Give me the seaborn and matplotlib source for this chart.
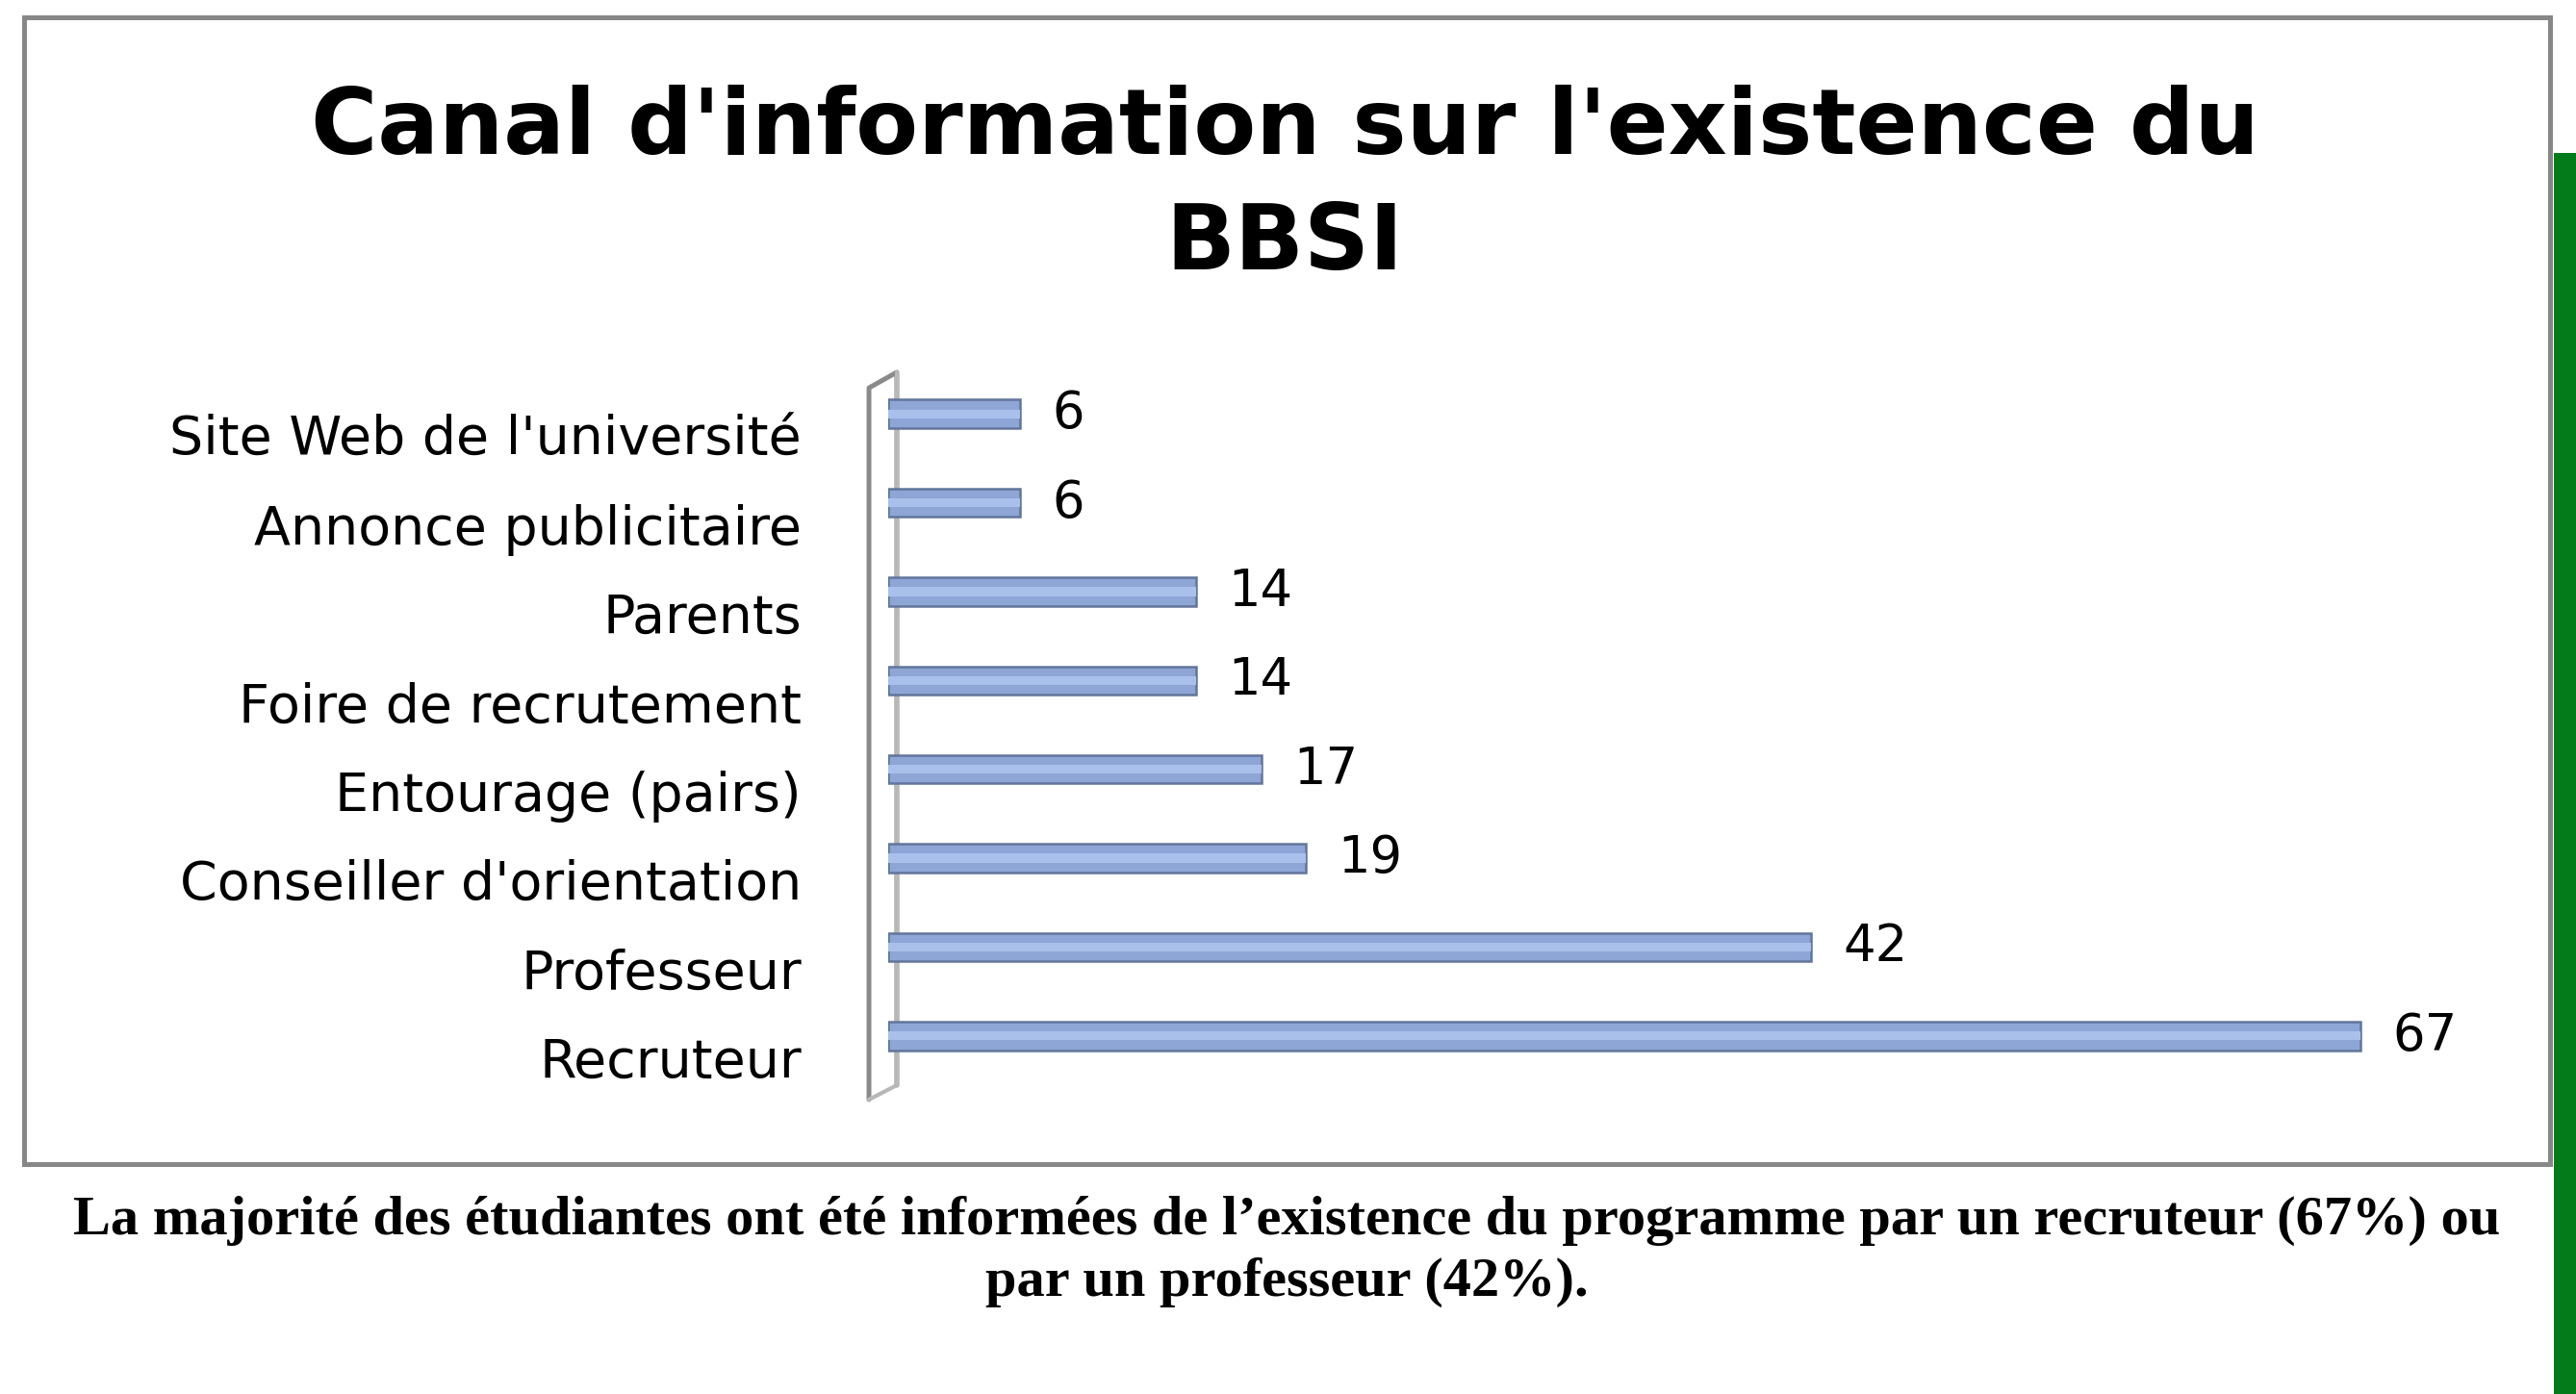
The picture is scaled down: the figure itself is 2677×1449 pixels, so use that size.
import matplotlib
matplotlib.use("Agg")

import matplotlib.pyplot as plt
import matplotlib.patches as mpatches
from matplotlib.transforms import ScaledTranslation
import pandas as pd
import seaborn as sns

categories = [
    "Site Web de l'université",
    "Annonce publicitaire",
    "Parents",
    "Foire de recrutement",
    "Entourage (pairs)",
    "Conseiller d'orientation",
    "Professeur",
    "Recruteur",
]
values = [6, 6, 14, 14, 17, 19, 42, 67]

title = "Canal d'information sur l'existence du\nBBSI"
caption = (
    "La majorité des étudiantes ont été informées de l\u2019existence du programme "
    "par un recruteur (67%) ou\npar un professeur (42%)."
)

sns.set_theme(style="white")
plt.rcParams["font.family"] = ["DejaVu Sans"]

df = pd.DataFrame({"canal": categories, "pct": values})

fig = plt.figure(figsize=(26.77, 14.49), dpi=100)
ax = fig.add_axes([0.3448, 0.225, 0.5973, 0.510])

# body of the cylinders, then a lighter highlight stripe
sns.barplot(data=df, x="pct", y="canal", orient="h", color="#8ea6d6",
            width=0.32, edgecolor="#62759a", linewidth=1.8, saturation=1, ax=ax)
main_bars = list(ax.containers)
sns.barplot(data=df, x="pct", y="canal", orient="h", color="#a9c0ea",
            width=0.10, linewidth=0, saturation=1, ax=ax)

ax.bar_label(main_bars[0], labels=[str(v) for v in values], padding=24,
             fontsize=38, color="black")

ax.set_xlim(0, 70)
ax.set_ylim(7.5, -0.5)
ax.set_xlabel("")
ax.set_ylabel("")
ax.set_xticks([])
for s in ax.spines.values():
    s.set_visible(False)
ax.tick_params(axis="y", length=0, pad=65, labelsize=40, labelcolor="black")
shift = ScaledTranslation(0, -0.22, fig.dpi_scale_trans)
for lbl in ax.get_yticklabels():
    lbl.set_transform(lbl.get_transform() + shift)

# 3D-style wall on the left of the plot area
ax.plot([-0.0125, -0.0125, 0.0056, 0.0056], [-0.027, 0.974, 0.996, -0.0068],
        transform=ax.transAxes, color="#8a8a8a", lw=3.6, clip_on=False, zorder=0)
ax.plot([0.0056, 0.0056, -0.0125], [0.996, -0.0068, -0.027],
        transform=ax.transAxes, color="#b8b8b8", lw=3.0, clip_on=False, zorder=0)

# outer frame of the chart and the green strip at the right
fig.patches.append(mpatches.Rectangle((0.0095, 0.1646), 0.9806, 0.8233,
                                      transform=fig.transFigure, fill=False,
                                      edgecolor="#878787", lw=3.6))
fig.patches.append(mpatches.Rectangle((0.9914, 0.0), 0.0086, 0.8903,
                                      transform=fig.transFigure,
                                      facecolor="#037b1b", edgecolor="none"))

fig.text(0.4987, 0.866, title, ha="center", va="center", fontsize=68,
         fontweight="bold", linespacing=1.38, color="black")
fig.text(0.4995, 0.102, caption, ha="center", va="center", fontsize=42,
         fontweight="bold", family=["Liberation Serif", "DejaVu Serif"],
         linespacing=1.3, color="black")

fig.savefig("out.png", dpi=100)
